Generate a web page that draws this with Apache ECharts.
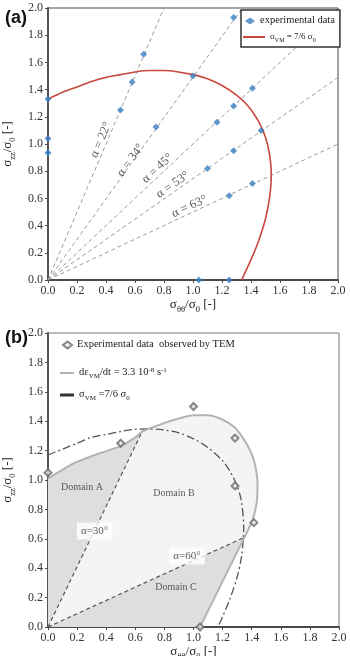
<!DOCTYPE html>
<html><head><meta charset="utf-8">
<script src="https://cdn.jsdelivr.net/npm/echarts@6.0.0/dist/echarts.min.js"></script>
<style>html,body{margin:0;padding:0;background:#fff}#c{width:350px;height:656px}</style>
</head><body><div id="c"></div>
<script>
// ---------- shared ----------
const tickLabels = ['0.0','0.2','0.4','0.6','0.8','1.0','1.2','1.4','1.6','1.8','2.0'];

// ---------- panel (a) ----------
const expAX = [0, 0, 0, 0.50, 0.58, 0.66, 0.745, 1.00, 1.28, 1.165, 1.28, 1.41, 1.10, 1.28, 1.47, 1.25, 1.41, 1.04, 1.25];
const expAY = [1.33, 1.04, 0.935, 1.25, 1.455, 1.66, 1.125, 1.50, 1.93, 1.16, 1.28, 1.41, 0.82, 0.95, 1.10, 0.62, 0.71, 0, 0];
const vmAX = [0, 0.1, 0.2, 0.3, 0.4, 0.5, 0.6, 0.7, 0.8, 0.9, 1.0, 1.1, 1.2, 1.3, 1.38, 1.45, 1.5, 1.53, 1.54, 1.53, 1.5, 1.45, 1.4, 1.335];
const vmAY = [1.33, 1.38, 1.42, 1.46, 1.49, 1.51, 1.53, 1.54, 1.54, 1.53, 1.51, 1.48, 1.43, 1.36, 1.28, 1.17, 1.05, 0.91, 0.77, 0.62, 0.45, 0.28, 0.15, 0];
const alphaNames = ['α = 22°', 'α = 34°', 'α = 45°', 'α = 53°', 'α = 63°'];
const alphaEndX = [0.80, 1.34, 2.0, 2.0, 2.0];
const alphaEndY = [2.0, 2.0, 2.0, 1.49, 1.0];
const alphaLabelX = [0.365, 0.57, 0.755, 0.86, 0.975];
const alphaLabelY = [1.03, 0.88, 0.82, 0.70, 0.54];
const alphaLabelRot = [67, 54, 43, 35, 25];

// ---------- panel (b) ----------
const expBX = [0, 0.50, 1.00, 1.285, 1.285, 1.415, 1.045];
const expBY = [1.05, 1.25, 1.50, 1.285, 0.96, 0.71, 0];
const rateX = [0, 0.17, 0.35, 0.5, 0.6, 0.65, 0.75, 0.87, 1.0, 1.1, 1.2, 1.28, 1.33, 1.38, 1.41, 1.43, 1.44, 1.435, 1.41, 1.38, 1.35, 1.045];
const rateY = [1.01, 1.11, 1.18, 1.23, 1.29, 1.33, 1.37, 1.41, 1.44, 1.44, 1.41, 1.36, 1.30, 1.22, 1.15, 1.07, 0.98, 0.85, 0.74, 0.67, 0.61, 0];
const vmBX = [0, 0.1, 0.2, 0.3, 0.4, 0.5, 0.6, 0.7, 0.8, 0.9, 1.0, 1.1, 1.2, 1.25, 1.3, 1.33, 1.345, 1.33, 1.3, 1.25, 1.2, 1.167];
const vmBY = [1.17, 1.21, 1.25, 1.29, 1.31, 1.33, 1.345, 1.347, 1.34, 1.32, 1.28, 1.22, 1.13, 1.06, 0.96, 0.85, 0.67, 0.48, 0.34, 0.19, 0.07, 0];
const line30End = [0.65, 1.335];
const line60End = [1.35, 0.61];
const domainNames = ['Domain A', 'Domain B', 'Domain C'];
const domainX = [0.234, 0.866, 0.88];
const domainY = [0.952, 0.912, 0.272];
const angleNames = ['α=30°', 'α=60°'];
const angleX = [0.32, 0.955];
const angleY = [0.653, 0.483];

// ---------- styles ----------
const SERIF = '"Liberation Serif", "Times New Roman", serif';
const AX = '#4a4a4a';
const rich = {
  t: {fontFamily: SERIF, fontSize: 13, color: '#222', lineHeight: 14, verticalAlign: 'top'},
  sub: {fontFamily: SERIF, fontSize: 8.5, color: '#222', lineHeight: 9, padding: [7, 0, 0, 0], verticalAlign: 'top'},
  ls: {fontFamily: SERIF, fontSize: 10.5, color: '#222', lineHeight: 12, verticalAlign: 'top'},
  lsub: {fontFamily: SERIF, fontSize: 7, color: '#222', lineHeight: 7, padding: [6, 0, 0, 0], verticalAlign: 'top'},
  lsup: {fontFamily: SERIF, fontSize: 7, color: '#222', lineHeight: 7, padding: [0, 0, 5, 0], verticalAlign: 'top'},
  s8: {fontFamily: SERIF, fontSize: 9, color: '#222', lineHeight: 10, verticalAlign: 'top'},
  s8sub: {fontFamily: SERIF, fontSize: 6, color: '#222', lineHeight: 6, padding: [5, 0, 0, 0], verticalAlign: 'top'}
};
const xName = '{t|σ}{sub|θθ}{t|/σ}{sub|0}{t| [-]}';
const yName = '{t|σ}{sub|zz}{t|/σ}{sub|0}{t| [-]}';
const legendText = {
  'experimental data': '{ls|experimental data}',
  'vmA': '{s8|σ}{s8sub|VM}{s8| = 7/6 σ}{s8sub|0}',
  'tem': '{ls|Experimental data  observed by TEM}',
  'rate': '{ls|dε}{lsub|VM}{ls|/dt = 3.3 10}{lsup|-8}{ls| s}{lsup|-1}',
  'vmB': '{ls|σ}{lsub|VM}{ls| =7/6 σ}{lsub|0}'
};
const legFmt = n => legendText[n];

function mkX(gi, gap) {
  return {
    gridIndex: gi, type: 'value', min: 0, max: 2, interval: 0.2,
    axisLine: {show: true, onZero: false, lineStyle: {color: AX, width: 1.8}},
    axisTick: {show: true, length: 3, lineStyle: {color: AX}},
    axisLabel: {fontFamily: SERIF, fontSize: 12, color: '#333', margin: 5,
      formatter: v => tickLabels[Math.round(v / 0.2)]},
    splitLine: {show: false},
    name: xName, nameLocation: 'middle', nameGap: gap, nameTextStyle: {rich: rich}
  };
}
function mkY(gi) {
  return {
    gridIndex: gi, type: 'value', min: 0, max: 2, interval: 0.2,
    axisLine: {show: true, onZero: false, lineStyle: {color: AX, width: 1.8}},
    axisTick: {show: true, length: 3, lineStyle: {color: AX}},
    axisLabel: {fontFamily: SERIF, fontSize: 12, color: '#333', margin: 5,
      formatter: v => tickLabels[Math.round(v / 0.2)]},
    splitLine: {show: false},
    name: yName, nameLocation: 'middle', nameGap: 24, nameRotate: 90, nameTextStyle: {rich: rich}
  };
}
const zip = (xs, ys) => xs.map((x, i) => [x, ys[i]]);

function polygonSeries(pts, color, z) {
  return {
    type: 'custom', xAxisIndex: 1, yAxisIndex: 1, silent: true, z: z,
    data: [[0, 0]],
    renderItem: (params, api) => ({
      type: 'polygon',
      shape: {points: pts.map(p => api.coord(p))},
      style: {fill: color}
    })
  };
}

const ratePts = zip(rateX, rateY);
const polyB = [[0, 0]].concat(ratePts);
const polyA = [[0, 0], line30End].concat(ratePts.filter(p => p[0] < line30End[0]).reverse());
const polyC = [[0, 0], line60End].concat(ratePts.filter(p => p[0] < line60End[0] && p[1] < line60End[1]));

const series = [];
// (a) alpha lines
alphaNames.forEach((n, i) => series.push({
  type: 'line', xAxisIndex: 0, yAxisIndex: 0, silent: true, symbol: 'none', z: 2,
  data: [[0, 0], [alphaEndX[i], alphaEndY[i]]],
  lineStyle: {color: '#9a9a9a', width: 1, type: [4, 3]}
}));
series.push({
  name: 'vmA', type: 'line', xAxisIndex: 0, yAxisIndex: 0, symbol: 'none', smooth: 0.3, z: 3,
  data: zip(vmAX, vmAY), lineStyle: {color: '#c9473e', width: 1.6}, itemStyle: {color: '#c9473e'}
});
series.push({
  name: 'experimental data', type: 'scatter', xAxisIndex: 0, yAxisIndex: 0, symbol: 'diamond', symbolSize: 7, z: 5,
  data: zip(expAX, expAY), itemStyle: {color: '#3b7fc2'}
});
series.push({
  type: 'scatter', xAxisIndex: 0, yAxisIndex: 0, symbolSize: 0, silent: true, z: 6,
  data: alphaNames.map((n, i) => ({value: [alphaLabelX[i], alphaLabelY[i]],
    label: {show: true, position: 'inside', rotate: alphaLabelRot[i], formatter: n}})),
  label: {fontFamily: SERIF, fontSize: 12.5, color: '#333'}
});

// (b) fills
series.push(polygonSeries(polyB, '#f4f4f4', 1));
series.push(polygonSeries(polyA, '#dedede', 1.1));
series.push(polygonSeries(polyC, '#dedede', 1.1));
// (b) alpha lines
[line30End, line60End].forEach(e => series.push({
  type: 'line', xAxisIndex: 1, yAxisIndex: 1, silent: true, symbol: 'none', z: 2,
  data: [[0, 0], e], lineStyle: {color: '#555', width: 1.2, type: [4, 3]}
}));
series.push({
  name: 'vmBcurve', type: 'line', xAxisIndex: 1, yAxisIndex: 1, symbol: 'none', smooth: 0.3, z: 3,
  data: zip(vmBX, vmBY), lineStyle: {color: '#555', width: 1.3, type: [8, 3, 2, 3]}
});
series.push({
  name: 'rate', type: 'line', xAxisIndex: 1, yAxisIndex: 1, symbol: 'none', smooth: 0.2, z: 3,
  data: ratePts, lineStyle: {color: '#b3b3b3', width: 2}, itemStyle: {color: '#b3b3b3'}
});
series.push({
  name: 'vmB', type: 'line', xAxisIndex: 1, yAxisIndex: 1, symbol: 'none', z: 3,
  data: [], lineStyle: {color: '#333', width: 3}, itemStyle: {color: '#333'}
});
series.push({
  name: 'tem', type: 'scatter', xAxisIndex: 1, yAxisIndex: 1, symbol: 'diamond', symbolSize: 7, z: 5,
  data: zip(expBX, expBY), itemStyle: {color: '#e8e8e8', borderColor: '#6a6a6a', borderWidth: 2}
});
series.push({
  type: 'scatter', xAxisIndex: 1, yAxisIndex: 1, symbolSize: 0, silent: true, z: 6,
  data: domainNames.map((n, i) => ({value: [domainX[i], domainY[i]], label: {formatter: n}})),
  label: {show: true, position: 'inside', fontFamily: SERIF, fontSize: 10, color: '#333'}
});
series.push({
  type: 'scatter', xAxisIndex: 1, yAxisIndex: 1, symbolSize: 0, silent: true, z: 6,
  data: angleNames.map((n, i) => ({value: [angleX[i], angleY[i]], label: {formatter: n}})),
  label: {show: true, position: 'inside', fontFamily: SERIF, fontSize: 11, color: '#333',
    backgroundColor: '#fff', padding: [3, 4, 3, 4]}
});

const legBase = {orient: 'vertical', selectedMode: false, itemGap: 4, formatter: legFmt,
  textStyle: {fontFamily: SERIF, fontSize: 10.5, color: '#222', rich: rich}};

const option = {
  animation: false,
  backgroundColor: '#fff',
  title: [
    {text: '(a)', left: 0, top: 4, textStyle: {fontFamily: '"Liberation Sans", Arial, sans-serif', fontWeight: 'bold', fontSize: 18, color: '#111'}},
    {text: '(b)', left: 0, top: 324, textStyle: {fontFamily: '"Liberation Sans", Arial, sans-serif', fontWeight: 'bold', fontSize: 18, color: '#111'}}
  ],
  grid: [
    {left: 48, right: 12, top: 8, height: 272, show: true, borderColor: AX, borderWidth: 1, backgroundColor: 'transparent',
      containLabel: false, outerBoundsMode: 'none'},
    {left: 48, right: 11, top: 333, height: 294, show: true, borderColor: '#777', borderWidth: 1, backgroundColor: 'transparent',
      containLabel: false, outerBoundsMode: 'none'}
  ],
  xAxis: [mkX(0, 18), mkX(1, 15)],
  yAxis: [mkY(0), mkY(1)],
  legend: [
    Object.assign({}, legBase, {data: ['experimental data'], left: 241, top: 10, itemWidth: 10, itemHeight: 7,
      backgroundColor: '#fff', borderColor: '#333', borderWidth: 1.5, padding: [5, 5, 21, 4], z: 10}),
    Object.assign({}, legBase, {data: [{name: 'vmA', icon: 'rect'}], left: 243, top: 32, itemWidth: 22, itemHeight: 2, padding: 0, z: 11}),
    Object.assign({}, legBase, {data: ['tem'], left: 62, top: 339, itemWidth: 9, itemHeight: 7, padding: 0}),
    Object.assign({}, legBase, {data: [{name: 'rate', icon: 'rect'}], left: 60, top: 367, itemWidth: 14, itemHeight: 2, padding: 0}),
    Object.assign({}, legBase, {data: [{name: 'vmB', icon: 'rect'}], left: 60, top: 389, itemWidth: 14, itemHeight: 3, padding: 0})
  ],
  series: series
};
const chart = echarts.init(document.getElementById('c'));
chart.setOption(option);
</script>
</body></html>
